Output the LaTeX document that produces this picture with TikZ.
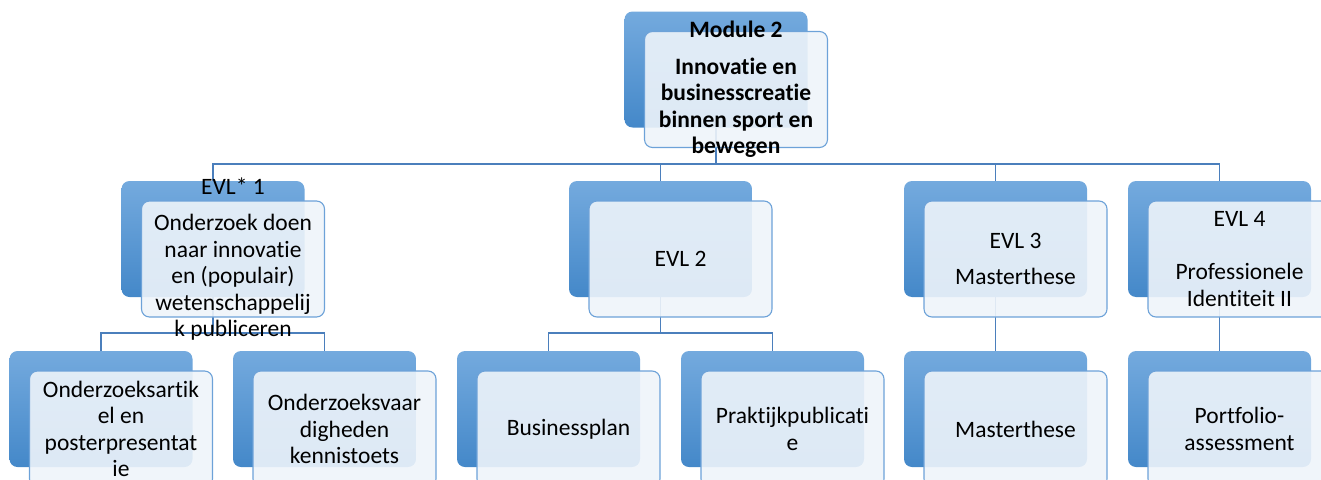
\documentclass[tikz,border=0pt]{standalone}
\usepackage{fontspec}
\setmainfont{Carlito}[Ligatures=NoCommon, Contextuals=NoAlternate]
\usetikzlibrary{calc}

\definecolor{backtop}{HTML}{74AADE}
\definecolor{backbot}{HTML}{4488C9}
\definecolor{frontfill}{HTML}{EEF4FA}
\definecolor{frontline}{HTML}{6DA2D8}
\definecolor{connline}{HTML}{4B7FBC}

\pgfdeclarelayer{bg}
\pgfsetlayers{bg,main}

\begin{document}
\begin{tikzpicture}[
  x=1pt, y=-1pt,
  backbox/.style={minimum width=183pt, minimum height=116pt, inner sep=0pt,
    rounded corners=8pt, top color=backtop, bottom color=backbot},
  frontbox/.style={minimum width=183pt, minimum height=116pt, inner sep=0pt,
    rounded corners=8pt, draw=frontline, line width=1.1pt,
    fill=frontfill, fill opacity=0.9},
  txt/.style={align=center, inner sep=0pt, text=black,
    font=\fontsize{23.5}{26.5}\selectfont},
  conn/.style={draw=connline, line width=1.1pt}
]
  \useasboundingbox (0,0) rectangle (1321,479);

  % module
  \node[backbox]  (modb) at (716,69.5) {};
  \node[frontbox] (modf) at (736,89.5) {};
  \node[txt, font=\fontsize{23.5}{26.5}\selectfont\bfseries] (modt) at (modf)
      {Module 2\\[10pt]Innovatie en\\businesscreatie\\binnen sport en\\bewegen};

  % EVL row
  \node[backbox]  (evl1b) at (213,239) {};
  \node[frontbox] (evl1f) at (233,259) {};
  \node[txt] (evl1t) at (evl1f)
      {EVL* 1\\[10pt]Onderzoek doen\\naar innovatie\\en (populair)\\wetenschappelij\\k publiceren};

  \node[backbox]  (evl2b) at (660.5,239) {};
  \node[frontbox] (evl2f) at (680.5,259) {};
  \node[txt] (evl2t) at (evl2f) {EVL 2};

  \node[backbox]  (evl3b) at (995.5,239) {};
  \node[frontbox] (evl3f) at (1015.5,259) {};
  \node[txt] (evl3t) at (evl3f) {EVL 3\\[10pt]Masterthese};

  \node[backbox]  (evl4b) at (1219.5,239) {};
  \node[frontbox] (evl4f) at (1239.5,259) {};
  \node[txt] (evl4t) at (evl4f) {EVL 4\\[27pt]Professionele\\Identiteit II};

  % toetsen
  \node[backbox]  (t1ab) at (101,409) {};
  \node[frontbox] (t1af) at (121,429) {};
  \node[txt] (t1at) at (t1af) {Onderzoeksartik\\el en\\posterpresentat\\ie};

  \node[backbox]  (t1bb) at (324.5,409) {};
  \node[frontbox] (t1bf) at (344.5,429) {};
  \node[txt] (t1bt) at (t1bf) {Onderzoeksvaar\\digheden\\kennistoets};

  \node[backbox]  (t2ab) at (548.5,409) {};
  \node[frontbox] (t2af) at (568.5,429) {};
  \node[txt] (t2at) at (t2af) {Businessplan};

  \node[backbox]  (t2bb) at (772.5,409) {};
  \node[frontbox] (t2bf) at (792.5,429) {};
  \node[txt] (t2bt) at (t2bf) {Praktijkpublicati\\e};

  \node[backbox]  (t3b) at (995.5,409) {};
  \node[frontbox] (t3f) at (1015.5,429) {};
  \node[txt] (t3t) at (t3f) {Masterthese};

  \node[backbox]  (t4b) at (1219.5,409) {};
  \node[frontbox] (t4f) at (1239.5,429) {};
  \node[txt] (t4t) at (t4f) {Portfolio-\\assessment};

  % connectors, behind the boxes
  \begin{pgfonlayer}{bg}
    \coordinate (bus0) at (716,164);
    \coordinate (bus1) at (213,333);
    \coordinate (bus2) at (660.5,333);
    \draw[conn] (modb.south) -- (modb.south |- bus0);
    \draw[conn] (evl1b.north) |- (bus0) -| (evl4b.north);
    \draw[conn] (evl2b.north) -- (evl2b.north |- bus0);
    \draw[conn] (evl3b.north) -- (evl3b.north |- bus0);
    \draw[conn] (evl1b.south) -- (bus1);
    \draw[conn] (t1ab.north) |- (bus1) -| (t1bb.north);
    \draw[conn] (evl2b.south) -- (bus2);
    \draw[conn] (t2ab.north) |- (bus2) -| (t2bb.north);
    \draw[conn] (evl3b.south) -- (t3b.north);
    \draw[conn] (evl4b.south) -- (t4b.north);
  \end{pgfonlayer}
\end{tikzpicture}
\end{document}
